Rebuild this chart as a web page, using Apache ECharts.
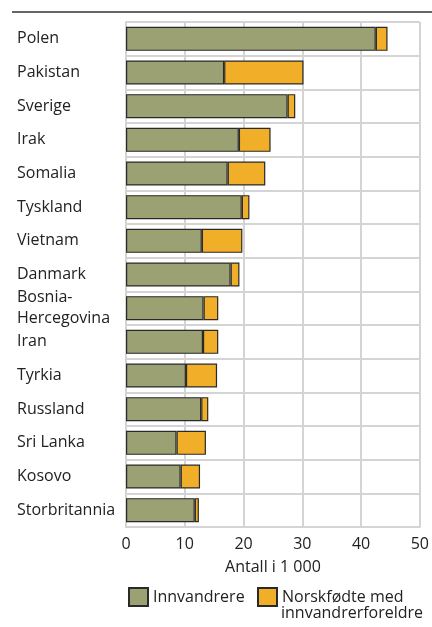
<!DOCTYPE html>
<html>
<head>
<meta charset="utf-8">
<script src="https://cdn.jsdelivr.net/npm/echarts@6/dist/echarts.min.js"></script>
<style>
  html, body { margin: 0; padding: 0; background: #fff; }
  #chart { width: 432px; height: 627px; }
</style>
</head>
<body>
<div id="chart"></div>
<script>
// land, antall i 1 000
const countries = ['Polen', 'Pakistan', 'Sverige', 'Irak', 'Somalia', 'Tyskland', 'Vietnam',
  'Danmark', 'Bosnia-\nHercegovina', 'Iran', 'Tyrkia', 'Russland', 'Sri Lanka', 'Kosovo', 'Storbritannia'];
const innvandrere = [42.5, 16.7, 27.5, 19.2, 17.3, 19.7, 12.9, 17.8, 13.2, 13.1, 10.2, 12.8, 8.6, 9.3, 11.7];
const norskfodte = [2.0, 13.5, 1.3, 5.4, 6.4, 1.3, 6.9, 1.5, 2.5, 2.6, 5.3, 1.2, 5.0, 3.3, 0.7];
const xTicks = [0, 10, 20, 30, 40, 50];

const FONT = '"Open Sans", sans-serif';
const TEXT = '#222';
const GRID = '#d4d4d4';
const FS = 16;

const chart = echarts.init(document.getElementById('chart'));

const legendBase = {
  top: 587,
  padding: 0,
  itemWidth: 19,
  itemHeight: 18,
  icon: 'rect',
  textStyle: { fontSize: FS, color: TEXT, fontFamily: FONT }
};

chart.setOption({
  animation: false,
  textStyle: { fontFamily: FONT },
  grid: { left: 126, right: 12, top: 22, bottom: 100 },
  xAxis: {
    type: 'value',
    min: xTicks[0],
    max: xTicks[xTicks.length - 1],
    interval: 10,
    name: 'Antall i 1 000',
    nameLocation: 'middle',
    nameGap: 32,
    nameTextStyle: { fontSize: FS, color: TEXT, fontFamily: FONT },
    axisLine: { show: true, lineStyle: { color: GRID, width: 2 } },
    axisTick: { show: false },
    axisLabel: { fontSize: FS, color: TEXT, margin: 9, fontFamily: FONT },
    splitLine: { show: true, lineStyle: { color: GRID, width: 2 } }
  },
  yAxis: {
    type: 'category',
    inverse: true,
    data: countries,
    axisLine: { show: true, lineStyle: { color: GRID, width: 2 } },
    axisTick: { show: false },
    axisLabel: {
      fontSize: FS, color: TEXT, align: 'left', margin: 109, lineHeight: 21,
      fontFamily: FONT
    },
    splitLine: { show: true, interval: 0, lineStyle: { color: GRID, width: 2 } }
  },
  legend: [
    Object.assign({}, legendBase, { left: 128, data: ['Innvandrere'] }),
    Object.assign({}, legendBase, { left: 257, data: ['Norskfødte med'] })
  ],
  graphic: [
    { type: 'line', shape: { x1: 12, y1: 12, x2: 432, y2: 12 }, style: { stroke: '#333', lineWidth: 1.5 } },
    { type: 'text', left: 281, top: 605, style: { text: 'innvandrerforeldre', fontSize: FS, fill: TEXT, fontFamily: FONT } }
  ],
  series: [
    {
      name: 'Innvandrere',
      type: 'bar',
      stack: 'total',
      barWidth: 24,
      data: innvandrere,
      itemStyle: { color: '#9ca174', borderColor: '#2a2a2a', borderWidth: 1.2 }
    },
    {
      name: 'Norskfødte med',
      type: 'bar',
      stack: 'total',
      barWidth: 24,
      data: norskfodte,
      itemStyle: { color: '#f0ae29', borderColor: '#2a2a2a', borderWidth: 1.2 }
    }
  ]
});

window.addEventListener('resize', () => chart.resize());
</script>
</body>
</html>
